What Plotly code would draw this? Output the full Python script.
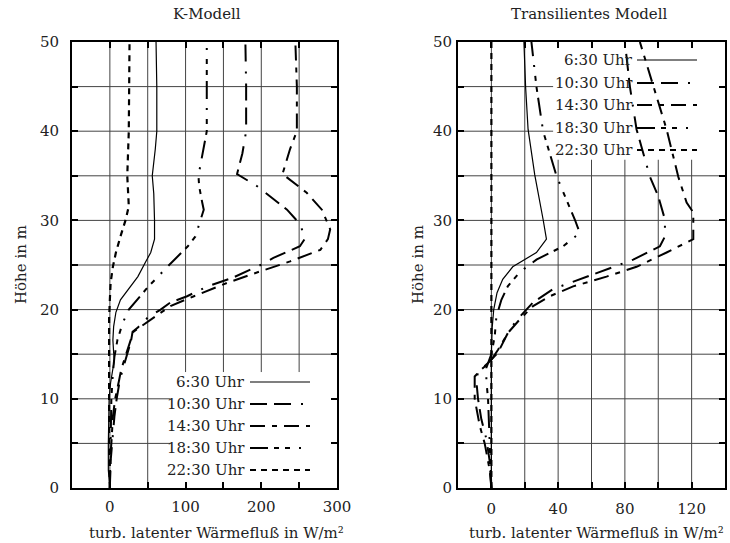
import plotly.graph_objects as go

# ---------------- data ----------------
series_names = ["6:30 Uhr", "10:30 Uhr", "14:30 Uhr", "18:30 Uhr", "22:30 Uhr"]

# K-Modell (left panel): heights (m) and flux values (W/m^2)
k_0630_h = [0, 2, 5, 8, 10, 11.8, 13.6, 14.4, 15.2, 16.6, 18.1, 19.7, 21.1, 22.2, 23.7, 25.3, 26.4, 27.9, 30, 33, 35, 38, 40, 45, 50]
k_0630_v = [0, -2, -2, -1, -1, 1, 4, 6, 5, 4, 5, 8, 14, 24, 37, 47, 54, 59, 59, 58, 56, 60, 62, 62, 61]

k_1030_h = [0, 3, 5, 8, 10, 11, 12, 13.3, 14.4, 15.5, 16.5, 17.5, 18, 19.1, 20, 20.8, 21.5, 22.6, 23.6, 25, 25.8, 27.1, 28, 29.6, 31.2, 33.8, 35.2, 37.5, 40, 45, 50]
k_1030_v = [0, 1, 3, 6, 9, 11, 13, 17, 21, 25, 28, 30, 37, 50, 67, 80, 102, 129, 163, 199, 216, 251, 258, 251, 234, 195, 168, 175, 180, 180, 179]

k_1430_h = [0, 3, 5, 8, 10, 11, 12, 13.3, 14.4, 15.5, 16.5, 17.5, 18.1, 19.4, 20.4, 21.5, 23, 24.3, 25.4, 26.7, 27.9, 29, 31.2, 33.1, 35.2, 38, 40, 45, 50]
k_1430_v = [0, 0, 2, 4, 7, 9, 12, 15, 19, 23, 27, 31, 41, 63, 80, 111, 155, 199, 238, 278, 288, 291, 280, 260, 228, 238, 247, 247, 245]

k_1830_h = [0, 5, 10, 12.9, 14.7, 16.6, 18.5, 20, 22.5, 24.8, 27.1, 28.2, 29.3, 31.2, 32, 33.8, 35, 37.5, 40, 45, 50]
k_1830_v = [0, 1, 2, 4, 6, 10, 17, 25, 50, 76, 103, 113, 117, 124, 122, 118, 117, 122, 128, 128, 128]

k_2230_h = [0, 5, 10, 15, 19, 21.1, 23, 24.8, 26.4, 28.2, 30.1, 31.6, 35, 40, 45, 50]
k_2230_v = [0, -1, -1, -1, -1, 0, 1, 4, 8, 14, 21, 25, 23, 25, 26, 26]

# Transilientes Modell (right panel)
t_0630_h = [0, 5, 10, 15, 18, 20, 21.9, 23.4, 24.8, 25.6, 26.4, 27.9, 30.1, 35.1, 40.2, 45, 50]
t_0630_v = [0, 0, 0, 0, 0.5, 1.4, 3.4, 6.8, 12.8, 20, 27, 33, 31, 26, 22, 20.5, 19.5]

t_1030_h = [0, 3, 5.5, 7.7, 10, 12, 13, 14, 15.2, 16.7, 17.8, 19.2, 20.8, 22.3, 23.4, 24.5, 25.6, 27.1, 28.2, 30.1, 31.5, 32.7, 34.9, 40.2, 45, 50]
t_1030_v = [0, -1, -3, -6, -8, -9, -8, -2, 4, 8, 11, 17, 25, 37, 53, 69, 85, 101, 104, 104, 102, 100, 95, 87, 83, 80]

t_1430_h = [0, 2, 5, 7, 10, 12.5, 13.3, 14.1, 15.5, 17.4, 18.9, 20.4, 21.5, 22.6, 23.7, 24.8, 26.4, 27.9, 28.6, 30.9, 32, 34.9, 40.2, 45, 50]
t_1430_v = [0, -1, -4, -7, -10, -10, -6, -1, 4, 10, 17, 25, 35, 49, 69, 87, 105, 121, 121, 121, 117, 112, 105, 97, 89]

t_1830_h = [0, 5, 10, 12, 13.5, 15, 17, 19.2, 21.1, 22.6, 24.2, 25.6, 27.1, 28.6, 30.1, 32.3, 35, 40, 45, 50]
t_1830_v = [0, -1, -2, -3, -3, 0, 2, 3, 6, 9.8, 17, 27, 43, 53, 50, 45, 39, 31, 27, 24]

t_2230_h = [0, 5, 10, 15, 20, 30, 40, 50]
t_2230_v = [0, 0, 0, 0, 0, 0, 0, 0]

left_x_ticks = [-50, 0, 50, 100, 150, 200, 250, 300]
left_x_labels = ["", "0", "", "100", "", "200", "", "300"]
right_x_ticks = [-20, 0, 20, 40, 60, 80, 100, 120, 140]
right_x_labels = ["", "0", "", "40", "", "80", "", "120", ""]
y_ticks = [0, 5, 10, 15, 20, 25, 30, 35, 40, 45, 50]
y_labels = ["0", "", "10", "", "20", "", "30", "", "40", "", "50"]

title_left = "K-Modell"
title_right = "Transilientes Modell"
x_title = "turb. latenter Wärmefluß in W/m²"
y_title = "Höhe in m"

# ---------------- styles ----------------
dashes = ["solid", "17px,7px,17px,10px,2px,10px", "15px,7px,5px,7px",
          "18px,6px,5px,6px,5px,9px,2px,9px", "6px,5px"]
widths = [1.2, 2, 2, 2, 2.2]
FONT = "DejaVu Serif"
TXT = "#222"
GRID = "#444"

left = [(k_0630_v, k_0630_h), (k_1030_v, k_1030_h), (k_1430_v, k_1430_h),
        (k_1830_v, k_1830_h), (k_2230_v, k_2230_h)]
right = [(t_0630_v, t_0630_h), (t_1030_v, t_1030_h), (t_1430_v, t_1430_h),
         (t_1830_v, t_1830_h), (t_2230_v, t_2230_h)]

fig = go.Figure()
for i, (v, h) in enumerate(left):
    fig.add_trace(go.Scatter(x=v, y=h, mode="lines", name=series_names[i], showlegend=False,
                             line=dict(color="black", width=widths[i], dash=dashes[i]),
                             xaxis="x", yaxis="y"))
for i, (v, h) in enumerate(right):
    fig.add_trace(go.Scatter(x=v, y=h, mode="lines", name=series_names[i], showlegend=False,
                             line=dict(color="black", width=widths[i], dash=dashes[i]),
                             xaxis="x2", yaxis="y2"))

W, H = 730, 543
L_dom = [72 / W, 337 / W]
R_dom = [458 / W, 725 / W]
Y_dom = [(H - 488) / H, (H - 42) / H]

axis_common = dict(ticks="inside", ticklen=6, tickwidth=1.5, tickcolor="black",
                   showline=True, linewidth=2, linecolor="black", mirror="ticks",
                   showgrid=False, zeroline=False, automargin=False,
                   tickfont=dict(family=FONT, size=15, color=TXT))

fig.update_layout(
    width=W, height=H, autosize=False, margin=dict(l=0, r=0, t=0, b=0, pad=0, autoexpand=False),
    paper_bgcolor="white", plot_bgcolor="white", showlegend=False,
    xaxis=dict(domain=L_dom, range=[-50, 300], tickvals=left_x_ticks, ticktext=left_x_labels,
               anchor="y", ticklabelstandoff=4, **axis_common),
    yaxis=dict(domain=Y_dom, range=[0, 50], tickvals=y_ticks, ticktext=y_labels,
               anchor="x", ticklabelstandoff=8, **axis_common),
    xaxis2=dict(domain=R_dom, range=[-20, 140], tickvals=right_x_ticks, ticktext=right_x_labels,
                anchor="y2", ticklabelstandoff=6, **axis_common),
    yaxis2=dict(domain=Y_dom, range=[0, 50], tickvals=y_ticks, ticktext=y_labels,
                anchor="x2", ticklabelstandoff=1, **axis_common),
)

# grid lines drawn as shapes so they can stop at the legend boxes
def grid(xr, yr, xticks, xrange, legbox, legend_at_top):
    lx0, ly = legbox  # legend left edge (data x) and legend inner edge (data y)
    for xv in xticks:
        if xv <= xrange[0] or xv >= xrange[1]:
            continue
        inside = xv > lx0
        if legend_at_top:
            y0, y1 = 0, (ly if inside else 50)
        else:
            y0, y1 = (ly if inside else 0), 50
        fig.add_shape(type="line", xref=xr, yref=yr, x0=xv, x1=xv, y0=y0, y1=y1,
                      line=dict(color=GRID, width=1), layer="below")
    for yv in y_ticks:
        if yv <= 0 or yv >= 50:
            continue
        inside = (yv > ly) if legend_at_top else (yv < ly)
        fig.add_shape(type="line", xref=xr, yref=yr, x0=xrange[0], x1=(lx0 if inside else xrange[1]),
                      y0=yv, y1=yv, line=dict(color=GRID, width=1), layer="below")

grid("x", "y", left_x_ticks, [-50, 300], (80, 13), False)
grid("x2", "y2", right_x_ticks, [-20, 140], (37, 36.8), True)

# custom legends: label then line sample
def add_legend(xr, yr, x_text, x0, x1, ys):
    for i, yy in enumerate(ys):
        fig.add_annotation(xref=xr, yref=yr, x=x_text, y=yy, text=series_names[i], showarrow=False,
                           xanchor="right", yanchor="middle",
                           font=dict(family=FONT, size=15, color=TXT))
        fig.add_shape(type="line", xref=xr, yref=yr, x0=x0, x1=x1, y0=yy, y1=yy,
                      line=dict(color="black", width=widths[i], dash=dashes[i]), layer="above")

add_legend("x domain", "y domain", (247 - 72) / 265, (250 - 72) / 265, (310 - 72) / 265,
           [(488 - y) / 446 for y in [382, 404, 426, 448, 470]])
add_legend("x2 domain", "y2 domain", (635 - 458) / 267, (637 - 458) / 267, (697 - 458) / 267,
           [(488 - y) / 446 for y in [60, 83, 105, 128, 150]])

# titles
def ann(x, y, text, angle=0):
    fig.add_annotation(xref="paper", yref="paper", x=x / W, y=1 - y / H, text=text, showarrow=False,
                       xanchor="center", yanchor="middle", textangle=angle,
                       font=dict(family=FONT, size=15, color=TXT))

ann(207, 14, title_left)
ann(589, 14, title_right)
ann(216, 533, x_title)
ann(596, 533, x_title)
ann(21, 265, y_title, -90)
ann(418, 265, y_title, -90)

fig.write_html("out.html")
